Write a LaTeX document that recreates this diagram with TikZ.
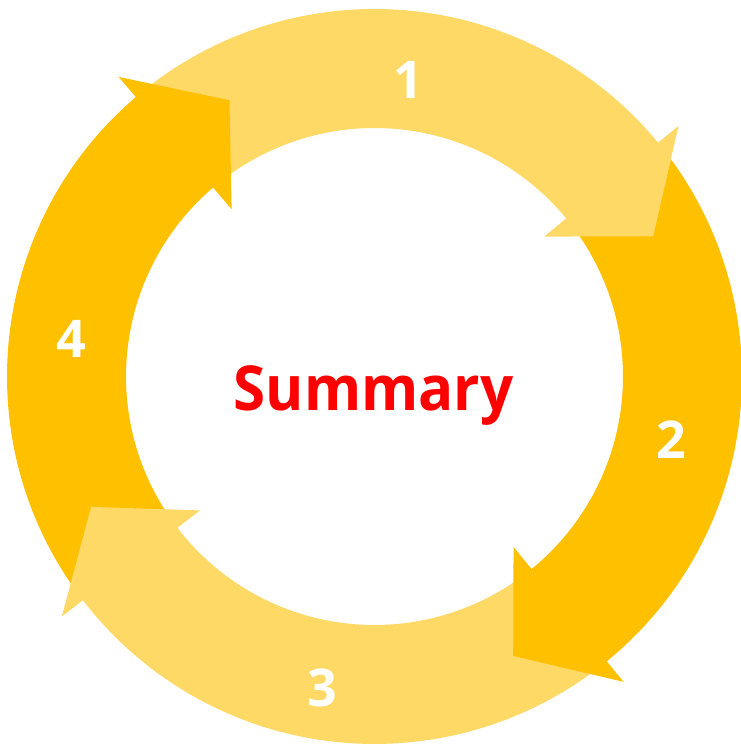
\documentclass[tikz,border=0pt]{standalone}
\usepackage{fontspec}
\setmainfont{Open Sans}
\definecolor{goldlight}{HTML}{FFD966}
\definecolor{golddark}{HTML}{FFC000}
\tikzset{
  numlabel/.style={white,font=\fontsize{52}{52}\selectfont\bfseries,inner sep=0},
  centertitle/.style={red,font=\fontsize{62}{62}\selectfont\bfseries,inner sep=0}
}

\begin{document}
\begin{tikzpicture}[x=1pt,y=1pt]
  \def\Ro{367.5} % outer ring
  \def\Ri{248.5} % inner ring
  \def\Bo{394}   % outer barb
  \def\Bi{220}   % inner barb
  \def\Rt{312}   % tip
  \def\H{12.8}   % head length (deg)
  \useasboundingbox (0,0) rectangle (741,747);
  \coordinate (O) at (374.5,370.5);

  % SHAFTS
  \foreach \a/\b/\c in {130.5/39.5/goldlight,39.5/-50.8/golddark,
                        -50.8/-142.5/goldlight,-142.5/-229.5/golddark}{
    \fill[\c,shift={(O)}] (\a:\Ro) arc[start angle=\a,end angle=\b,radius=\Ro]
      -- (\b:\Ri) arc[start angle=\b,end angle=\a,radius=\Ri] -- cycle;
  }

  % HEADS (on top of the next shaft)
  \foreach \b/\c in {39.5/goldlight,-50.8/golddark,-142.5/goldlight,-229.5/golddark}{
    \fill[\c,shift={(O)}] ({\b+0.5}:\Ro) -- (\b:\Ro) -- (\b:\Bo) -- ({\b-\H}:\Rt)
      -- (\b:\Bi) -- (\b:\Ri) -- ({\b+0.5}:\Ri) -- cycle;
  }

  % LABELS
  \node[numlabel] (n1) at (408,667) {1};
  \node[numlabel] (n2) at (671.5,307) {2};
  \node[numlabel] (n3) at (322,59) {3};
  \node[numlabel] (n4) at (71.5,408.5) {4};
  \node[centertitle,anchor=base] (summary) at (373.5,336.6) {\scalebox{0.94}[1]{Summary}};
\end{tikzpicture}
\end{document}
